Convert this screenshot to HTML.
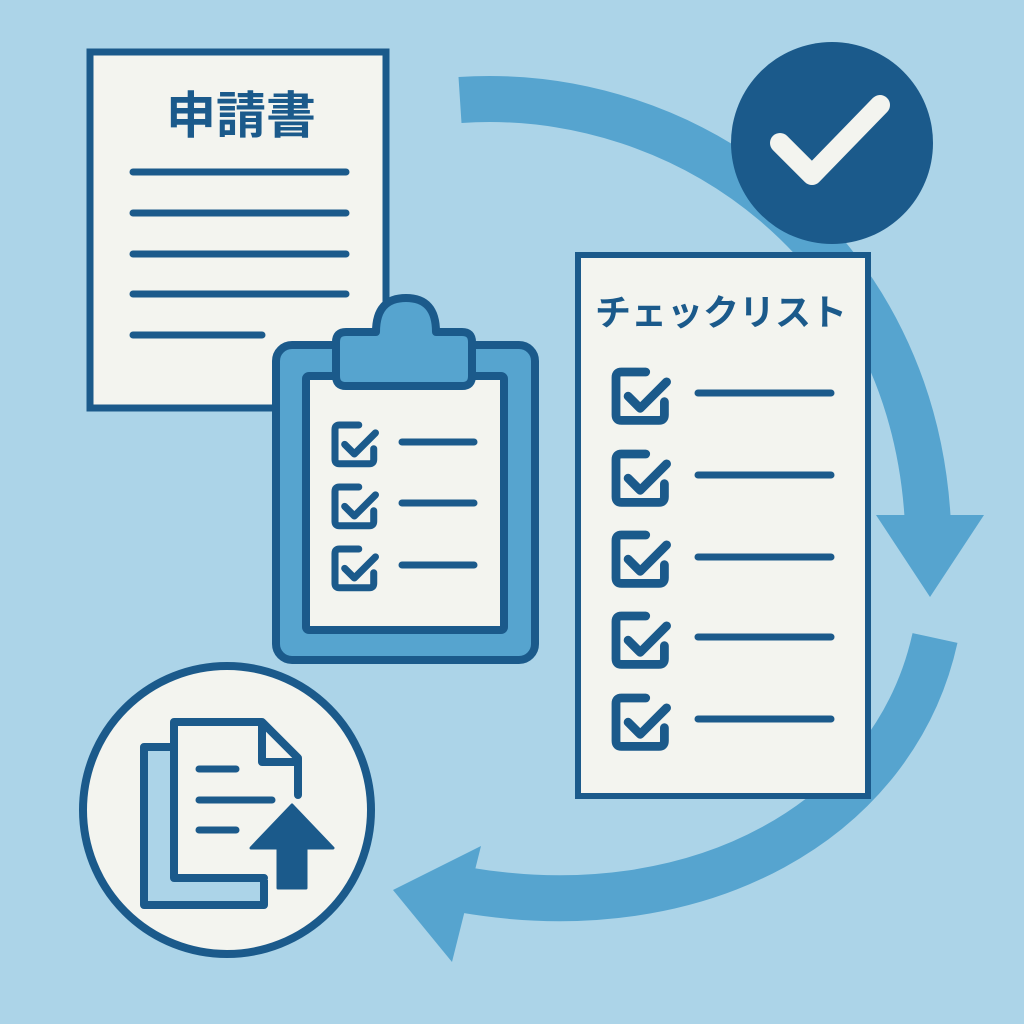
<!DOCTYPE html>
<html><head><meta charset="utf-8"><style>
html,body{margin:0;padding:0;background:#acd4e8;}
svg{display:block}
</style></head><body>
<svg width="1024" height="1024" viewBox="0 0 1024 1024" xmlns="http://www.w3.org/2000/svg">
<defs>
<g id="cb">
<path d="M 27 0 H 5 Q 0 0 0 5 V 39 Q 0 44 5 44 H 39 Q 44 44 44 39 V 27" fill="none" stroke="#1b5a8b" stroke-width="8" stroke-linecap="round" stroke-linejoin="round"/>
<path d="M 11 22 L 22 33 L 46 9" fill="none" stroke="#1b5a8b" stroke-width="8" stroke-linecap="round" stroke-linejoin="round"/>
</g>
</defs>
<rect width="1024" height="1024" fill="#acd4e8"/>
<path d="M 460 100 C 690 85, 915 250, 928 525" fill="none" stroke="#56a4cf" stroke-width="46"/>
<polygon points="876,515 984,515 930,597" fill="#56a4cf"/>
<path d="M 935 638 C 895 820, 700 930, 465 890" fill="none" stroke="#56a4cf" stroke-width="46"/>
<polygon points="393,890 481,846 452,962" fill="#56a4cf"/>
<circle cx="832" cy="143" r="101" fill="#1b5a8b"/>
<path d="M 780 143 L 812 175 L 880 105" fill="none" stroke="#f3f4ef" stroke-width="20" stroke-linecap="round" stroke-linejoin="round"/>
<rect x="90" y="52" width="296" height="356" fill="#f3f4ef" stroke="#1b5a8b" stroke-width="7"/>
<text x="241" y="133" text-anchor="middle" font-family="'Liberation Sans','Noto Sans CJK JP',sans-serif" font-weight="bold" font-size="50" fill="#1b5a8b">申請書</text>
<g stroke="#1b5a8b" stroke-width="7" stroke-linecap="round">
<line x1="133" y1="172" x2="346" y2="172"/>
<line x1="133" y1="213" x2="346" y2="213"/>
<line x1="133" y1="254" x2="346" y2="254"/>
<line x1="133" y1="294" x2="346" y2="294"/>
<line x1="133" y1="335" x2="262" y2="335"/>
</g>
<rect x="276" y="345" width="259" height="315" rx="16" fill="#56a4cf" stroke="#1b5a8b" stroke-width="8"/>
<rect x="306" y="376" width="198" height="254" rx="3" fill="#f3f4ef" stroke="#1b5a8b" stroke-width="8"/>
<path d="M 346 332 H 376 Q 376 298 406 298 Q 436 298 436 332 H 462 Q 472 332 472 342 V 376 Q 472 386 462 386 H 346 Q 336 386 336 376 V 342 Q 336 332 346 332 Z" fill="#56a4cf" stroke="#1b5a8b" stroke-width="8" stroke-linejoin="round"/>
<g transform="translate(335,425) scale(0.88)"><use href="#cb"/></g>
<g transform="translate(335,487) scale(0.88)"><use href="#cb"/></g>
<g transform="translate(335,549) scale(0.88)"><use href="#cb"/></g>
<g stroke="#1b5a8b" stroke-width="7" stroke-linecap="round">
<line x1="402" y1="442" x2="474" y2="442"/>
<line x1="402" y1="503" x2="474" y2="503"/>
<line x1="402" y1="565" x2="474" y2="565"/>
</g>
<rect x="578" y="255" width="290" height="541" fill="#f3f4ef" stroke="#1b5a8b" stroke-width="6"/>
<text x="721" y="325" text-anchor="middle" font-family="'Liberation Sans','Noto Sans CJK JP',sans-serif" font-weight="bold" font-size="36" fill="#1b5a8b">チェックリスト</text>
<g transform="translate(616,372) scale(1.1)"><use href="#cb"/></g>
<g transform="translate(616,454) scale(1.1)"><use href="#cb"/></g>
<g transform="translate(616,535) scale(1.1)"><use href="#cb"/></g>
<g transform="translate(616,616) scale(1.1)"><use href="#cb"/></g>
<g transform="translate(616,698) scale(1.1)"><use href="#cb"/></g>
<g stroke="#1b5a8b" stroke-width="7" stroke-linecap="round">
<line x1="698" y1="393" x2="831" y2="393"/>
<line x1="698" y1="475" x2="831" y2="475"/>
<line x1="698" y1="557" x2="831" y2="557"/>
<line x1="698" y1="637" x2="831" y2="637"/>
<line x1="698" y1="719" x2="831" y2="719"/>
</g>
<circle cx="227" cy="810" r="144" fill="#f3f4ef" stroke="#1b5a8b" stroke-width="8"/>
<rect x="144" y="747" width="120" height="158" fill="#acd4e8"/>
<path d="M 172 747 H 144 V 905 H 264 V 880" fill="none" stroke="#1b5a8b" stroke-width="8" stroke-linejoin="round"/>
<path d="M 298 795 V 758 L 262 722 H 174 V 878 H 264" fill="#f3f4ef" stroke="#1b5a8b" stroke-width="8" stroke-linejoin="round" stroke-linecap="round"/>
<path d="M 262 722 V 762 H 298" fill="none" stroke="#1b5a8b" stroke-width="8" stroke-linejoin="round"/>
<g stroke="#1b5a8b" stroke-width="7" stroke-linecap="round">
<line x1="199" y1="769" x2="236" y2="769"/>
<line x1="199" y1="800" x2="272" y2="800"/>
<line x1="199" y1="830" x2="236" y2="830"/>
</g>
<polygon points="292,805 333,848 306,848 306,888 278,888 278,848 251,848" fill="#1b5a8b" stroke="#1b5a8b" stroke-width="3" stroke-linejoin="round"/>
</svg>
</body></html>
